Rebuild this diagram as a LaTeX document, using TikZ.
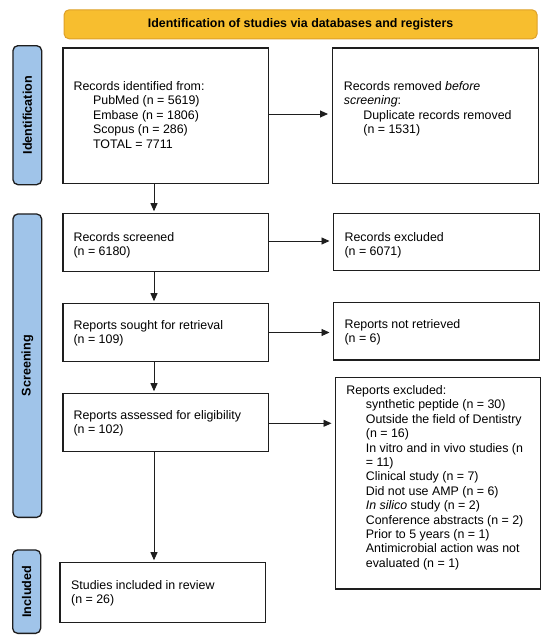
\documentclass[tikz,border=0pt]{standalone}
\usepackage{fontspec}
\setmainfont{Liberation Sans}
\usetikzlibrary{arrows.meta}
\definecolor{hdfill}{RGB}{247,190,47}
\definecolor{hdline}{RGB}{222,160,40}
\definecolor{sdfill}{RGB}{160,196,233}
\definecolor{bxline}{RGB}{30,30,30}
\tikzset{
  box/.style={draw=bxline, line width=1.3pt, fill=white, inner sep=0pt, anchor=north west},
  hdbox/.style={draw=hdline, line width=1pt, fill=hdfill, rounded corners=5pt, inner sep=0pt, anchor=north west,
    font=\fontsize{12.4}{14.4}\selectfont\bfseries},
  sidebox/.style={draw=bxline, line width=1.3pt, fill=sdfill, rounded corners=5pt, inner sep=0pt, anchor=north west},
  sidetxt/.style={rotate=90, inner sep=0pt, font=\fontsize{12.6}{14.4}\selectfont\bfseries},
  txt/.style={inner sep=0pt, anchor=base west, align=left, font=\fontsize{12.4}{14.4}\selectfont},
  arr/.style={line width=0.9pt, draw=bxline, -{Triangle[length=8pt,width=7pt]}},
}
\newcommand{\ind}{\hspace*{19.5pt}}
\begin{document}
\begin{tikzpicture}[x=1pt,y=-1pt]
\useasboundingbox[fill=white] (0,0) rectangle (550,641);
% header
\node[hdbox, minimum width=473pt, minimum height=29pt] (hd) at (63.6,9.3)
  {Identification of studies via databases and registers};
% side bars
\node[sidebox, minimum width=28.7pt, minimum height=139pt] (s1) at (12.3,45) {};
\node[sidetxt] (s1t) at (s1.center) {Identification};
\node[sidebox, minimum width=28.7pt, minimum height=303.4pt] (s2) at (12.3,213.3) {};
\node[sidetxt] (s2t) at (s2.center) {Screening};
\node[sidebox, minimum width=28pt, minimum height=83.4pt] (s3) at (12,549.3) {};
\node[sidetxt] (s3t) at (s3.center) {Included};
% boxes
\node[box, minimum width=205.8pt, minimum height=135.7pt] (b1) at (62.2,47.3) {};
\node[box, minimum width=206pt, minimum height=135.7pt] (b2) at (331.5,47.3) {};
\node[box, minimum width=205.8pt, minimum height=58pt] (b3) at (62.2,212.7) {};
\node[box, minimum width=205.5pt, minimum height=57pt] (b4) at (333,213) {};
\node[box, minimum width=205.8pt, minimum height=58pt] (b5) at (62.2,302.7) {};
\node[box, minimum width=205.5pt, minimum height=57.6pt] (b6) at (333,301.7) {};
\node[box, minimum width=205.8pt, minimum height=58pt] (b7) at (62.2,392.7) {};
\node[box, minimum width=205pt, minimum height=211.3pt] (b8) at (335,377) {};
\node[box, minimum width=205.3pt, minimum height=60pt] (b9) at (59.4,561.7) {};
% texts (anchor = baseline of the last line)
\node[txt] (t1) at (73.4,148) {Records identified from:\\ \ind PubMed (n = 5619)\\ \ind Embase (n = 1806)\\ \ind Scopus (n = 286)\\ \ind TOTAL = 7711};
\node[txt] (t2) at (343.7,133.6) {Records removed \textit{before}\\ \textit{screening}:\\ \ind Duplicate records removed\\ \ind (n = 1531)};
\node[txt] (t3) at (73.4,255.4) {Records screened\\ (n = 6180)};
\node[txt] (t4) at (344.4,255.4) {Records excluded\\ (n = 6071)};
\node[txt] (t5) at (73.4,343.4) {Reports sought for retrieval\\ (n = 109)};
\node[txt] (t6) at (344.4,342.4) {Reports not retrieved\\ (n = 6)};
\node[txt] (t7) at (73.4,433.8) {Reports assessed for eligibility\\ (n = 102)};
\node[txt] (t8) at (346.2,567.2) {Reports excluded:\\ \ind synthetic peptide (n = 30)\\ \ind Outside the field of Dentistry\\ \ind (n = 16)\\ \ind In vitro and in vivo studies (n\\ \ind = 11)\\ \ind Clinical study (n = 7)\\ \ind Did not use AMP (n = 6)\\ \ind \textit{In silico} study (n = 2)\\ \ind Conference abstracts (n = 2)\\ \ind Prior to 5 years (n = 1)\\ \ind Antimicrobial action was not\\ \ind evaluated (n = 1)};
\node[txt] (t9) at (71,603.8) {Studies included in review\\ (n = 26)};
% connectors
\coordinate (col) at (154,0);
\draw[arr, shorten >=1.5pt] (b1.south -| col) -- (b3.north -| col);
\draw[arr, shorten >=1.5pt] (b3.south -| col) -- (b5.north -| col);
\draw[arr, shorten >=1.5pt] (b5.south -| col) -- (b7.north -| col);
\draw[arr, shorten >=1.5pt] (b7.south -| col) -- (b9.north -| col);
\coordinate (r1) at (0,114);
\coordinate (r2) at (0,241);
\coordinate (r3) at (0,332.5);
\coordinate (r4) at (0,423.3);
\draw[arr, shorten >=3.5pt] (b1.east |- r1) -- (b2.west |- r1);
\draw[arr, shorten >=3.5pt] (b3.east |- r2) -- (b4.west |- r2);
\draw[arr, shorten >=3.5pt] (b5.east |- r3) -- (b6.west |- r3);
\draw[arr, shorten >=3.5pt] (b7.east |- r4) -- (b8.west |- r4);
\end{tikzpicture}
\end{document}
